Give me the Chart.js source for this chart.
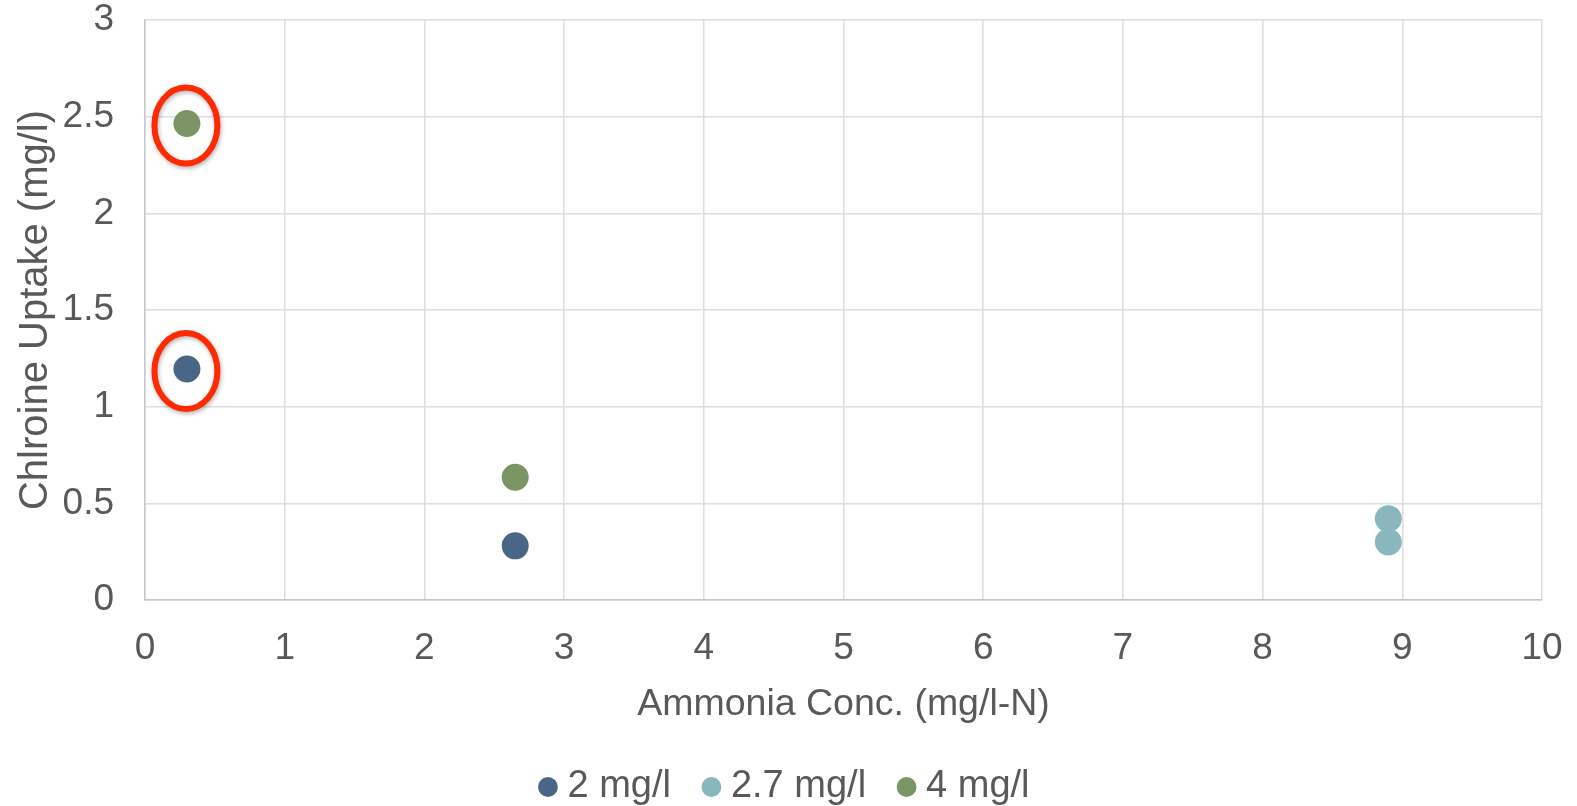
<!DOCTYPE html>
<html>
<head>
<meta charset="utf-8">
<script src="https://cdn.jsdelivr.net/npm/chart.js@4/dist/chart.umd.min.js"></script>
<style>
    body { margin: 0; background: #ffffff; }
    #wrap { width: 1577px; height: 806px; }
</style>
</head>
<body>
<div id="wrap"><canvas id="uptakeChart" width="1577" height="806"></canvas></div>
<script>
// chlorine dose series (mg/l)
const seriesNames = ['2 mg/l', '2.7 mg/l', '4 mg/l'];
const seriesColors = ['#4a6687', '#88b8bd', '#7b9463'];

// ammonia concentration (mg/l-N)
const ammonia2 = [0.3, 2.65];
const ammonia27 = [8.9, 8.9];
const ammonia4 = [0.3, 2.65];

// chlorine uptake (mg/l)
const uptake2 = [1.195, 0.28];
const uptake27 = [0.42, 0.30];
const uptake4 = [2.465, 0.635];

// points highlighted with a red ring: [series, point]
const ringedPoints = [[2, 0], [0, 0]];

const xTicks = [0, 1, 2, 3, 4, 5, 6, 7, 8, 9, 10];
const yTicks = [0, 0.5, 1, 1.5, 2, 2.5, 3];

const fontFamily = "'Liberation Sans', Arial, sans-serif";
const textColor = '#595959';
const legendDrop = 10;

function toPoints(xs, ys) {
    return xs.map((x, i) => ({ x: x, y: ys[i] }));
}

const seriesData = [
    toPoints(ammonia2, uptake2),
    toPoints(ammonia27, uptake27),
    toPoints(ammonia4, uptake4)
];

const datasets = seriesNames.map((name, i) => ({
    label: name,
    data: seriesData[i],
    backgroundColor: seriesColors[i],
    borderColor: seriesColors[i],
    borderWidth: 0,
    pointRadius: 13.5,
    pointHoverRadius: 13.5,
    pointStyle: 'circle'
}));

// slightly wider lettering, and the legend nudged towards the bottom edge
const textPlugin = {
    id: 'textTweaks',
    beforeInit(chart) {
        chart.ctx.letterSpacing = '1.2px';
    },
    afterLayout(chart) {
        chart.legend.top += legendDrop;
        chart.legend.bottom += legendDrop;
    }
};

// red rings drawn around selected points
const ringPlugin = {
    id: 'rings',
    afterDatasetsDraw(chart) {
        const ctx = chart.ctx;
        ctx.save();
        ctx.strokeStyle = '#ff2a00';
        ctx.lineWidth = 6;
        ctx.shadowColor = 'rgba(0,0,0,0.3)';
        ctx.shadowBlur = 4;
        ctx.shadowOffsetX = 1;
        ctx.shadowOffsetY = 2;
        ringedPoints.forEach(([ds, idx]) => {
            const pt = chart.getDatasetMeta(ds).data[idx];
            ctx.beginPath();
            ctx.ellipse(pt.x - 1, pt.y + 2, 31.5, 38, 0, 0, Math.PI * 2);
            ctx.stroke();
        });
        ctx.restore();
    }
};

new Chart(document.getElementById('uptakeChart'), {
    type: 'scatter',
    data: { datasets: datasets },
    options: {
        responsive: false,
        animation: false,
        events: [],
        layout: { padding: 0 },
        scales: {
            x: {
                type: 'linear',
                min: 0,
                max: 10,
                afterBuildTicks: scale => { scale.ticks = xTicks.map(v => ({ value: v })); },
                afterFit: scale => {
                    scale.height = 118;
                    scale.paddingLeft = 0;
                    scale.paddingRight = 35;
                },
                grid: { color: '#dedede', lineWidth: 1.5, drawTicks: false },
                border: { color: '#c8c8c8', width: 1.5 },
                ticks: {
                    padding: 27,
                    color: textColor,
                    font: { family: fontFamily, size: 37 },
                    callback: v => String(v)
                },
                title: {
                    display: true,
                    text: 'Ammonia Conc. (mg/l-N)',
                    color: textColor,
                    padding: { top: 0, bottom: -9 },
                    font: { family: fontFamily, size: 37.5 }
                }
            },
            y: {
                type: 'linear',
                min: 0,
                max: 3,
                afterBuildTicks: scale => { scale.ticks = yTicks.map(v => ({ value: v })); },
                afterFit: scale => {
                    scale.width = 145;
                    scale.paddingTop = 20;
                    scale.paddingBottom = 0;
                },
                grid: { color: '#dedede', lineWidth: 1.5, drawTicks: false },
                border: { color: '#c8c8c8', width: 1.5 },
                ticks: {
                    padding: 31,
                    color: textColor,
                    font: { family: fontFamily, size: 37 },
                    callback: v => String(v)
                },
                title: {
                    display: true,
                    text: 'Chlroine Uptake (mg/l)',
                    color: textColor,
                    padding: { top: 12, bottom: 0 },
                    font: { family: fontFamily, size: 40 }
                }
            }
        },
        plugins: {
            legend: {
                position: 'bottom',
                labels: {
                    usePointStyle: true,
                    pointStyle: 'circle',
                    boxWidth: 1,
                    boxHeight: 14,
                    padding: 40,
                    color: textColor,
                    font: { family: fontFamily, size: 38 }
                }
            },
            tooltip: { enabled: false }
        }
    },
    plugins: [textPlugin, ringPlugin]
});
</script>
</body>
</html>
